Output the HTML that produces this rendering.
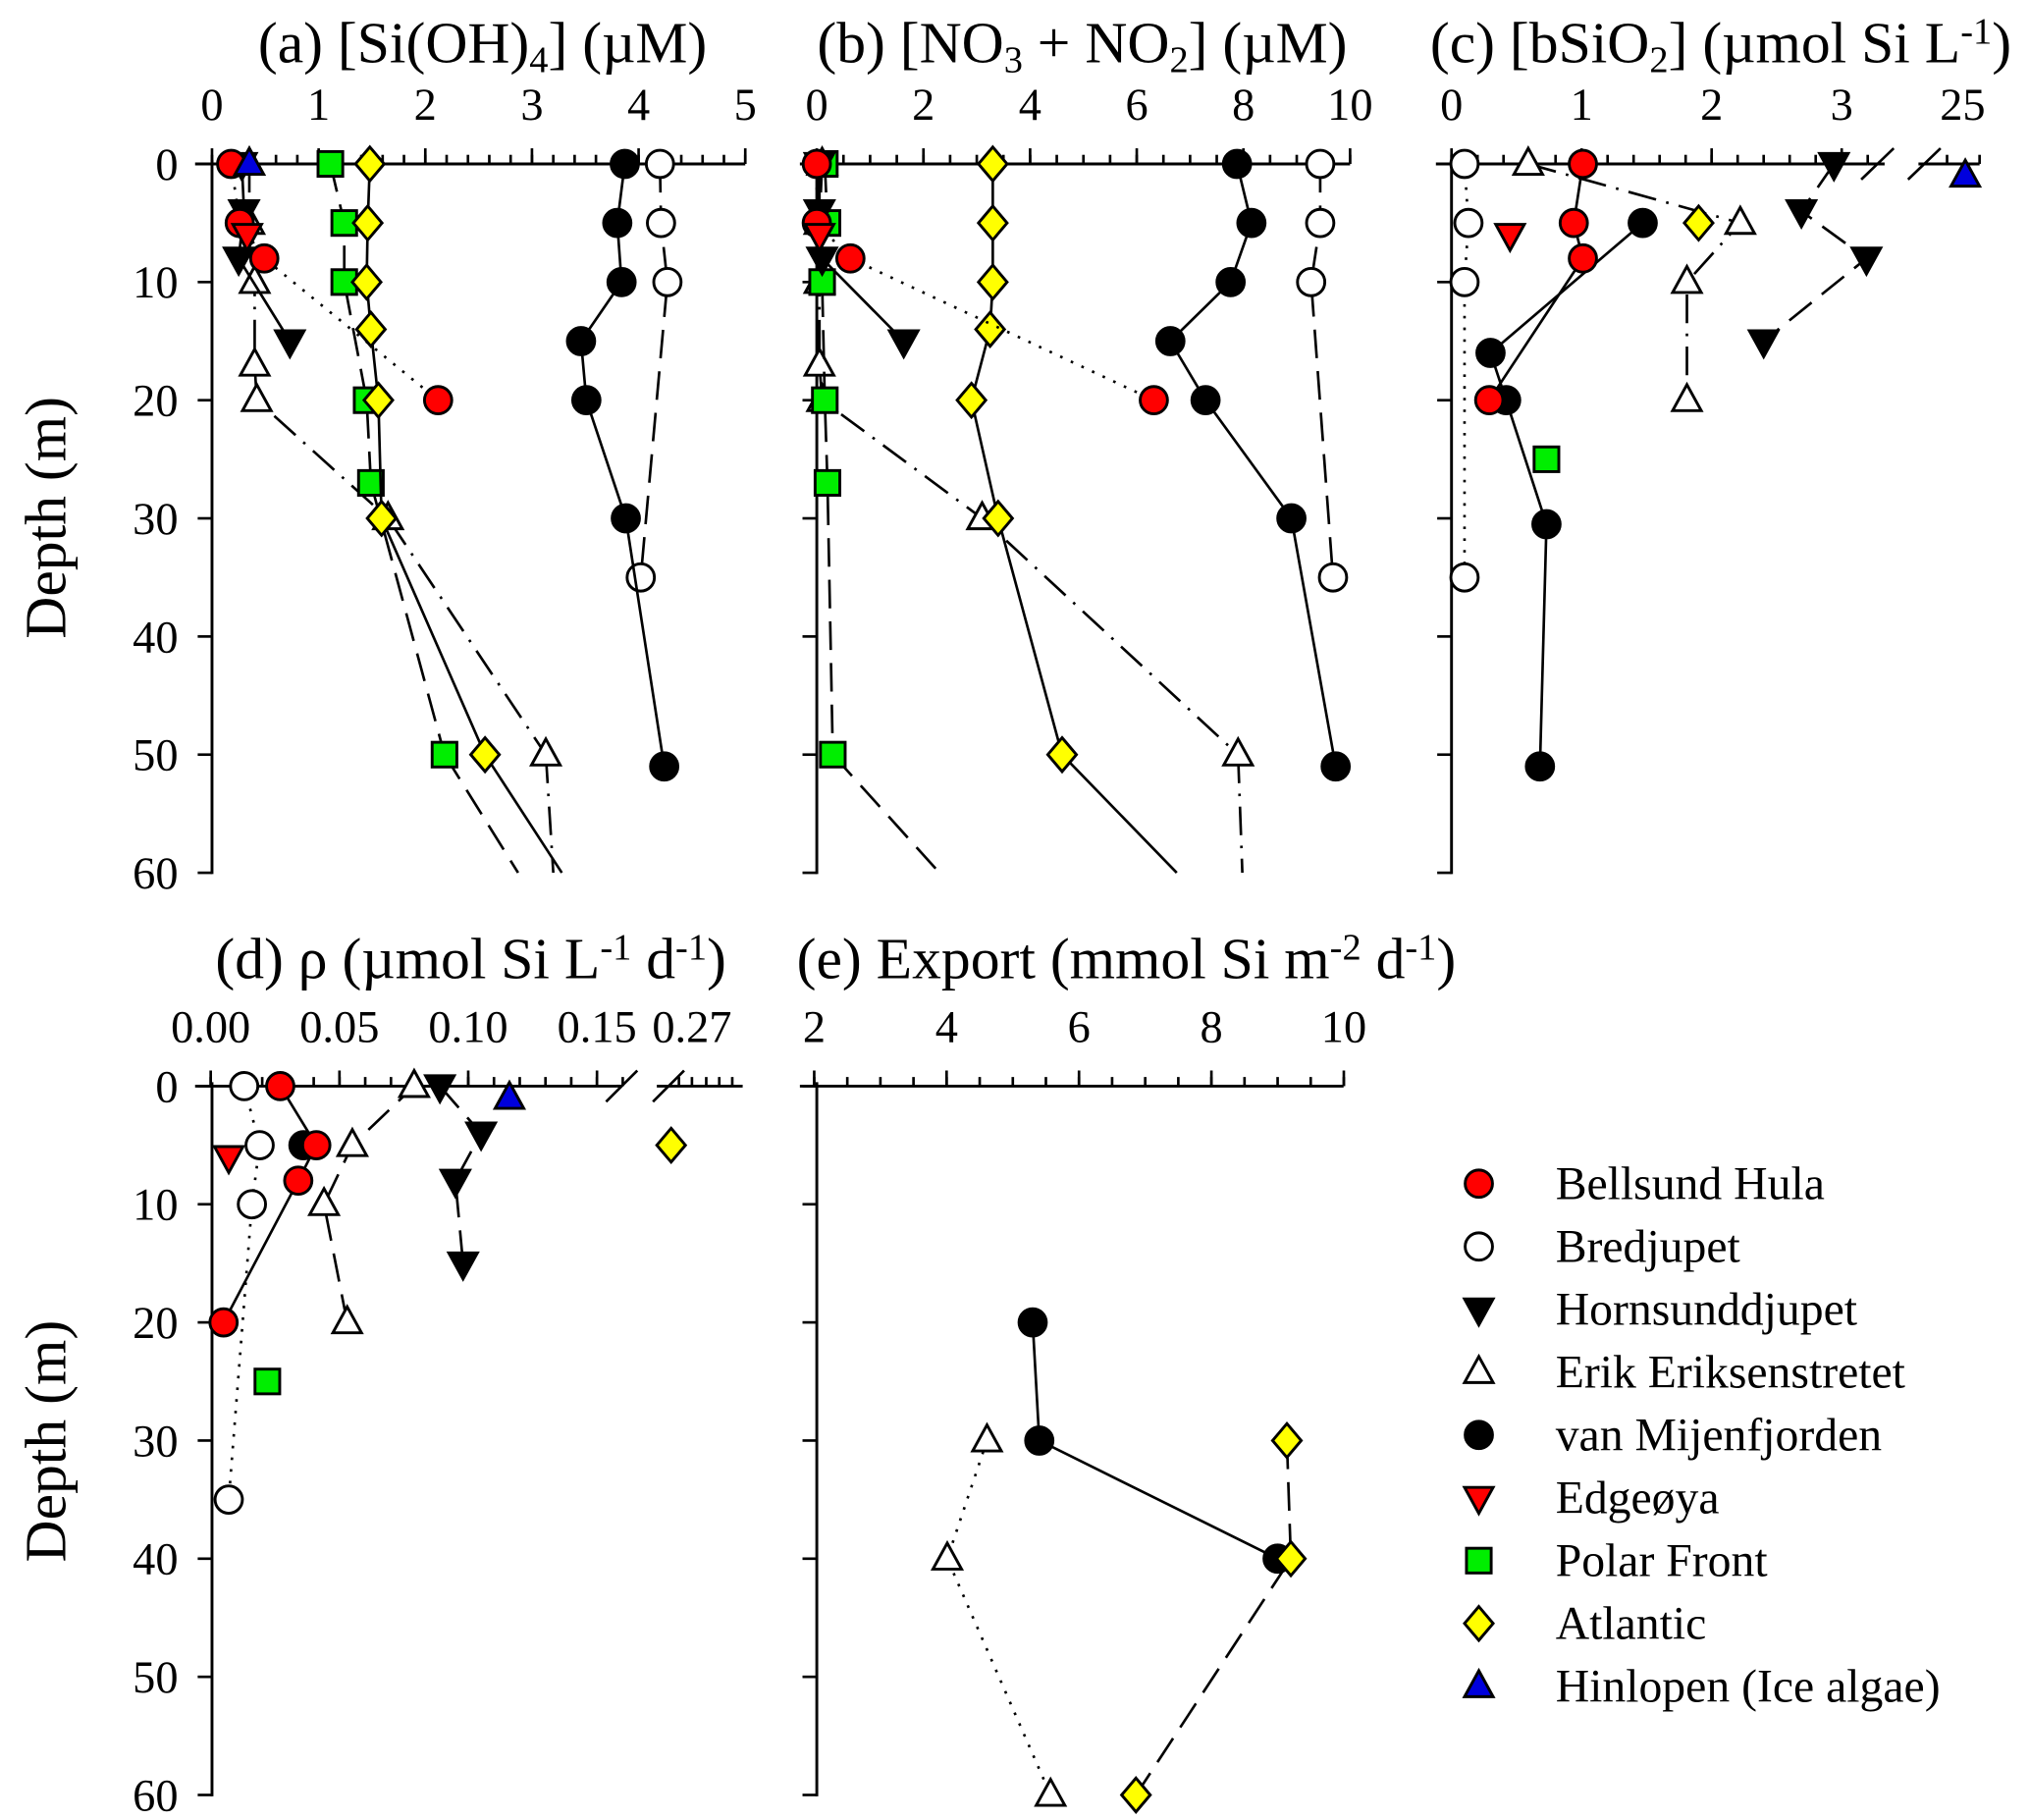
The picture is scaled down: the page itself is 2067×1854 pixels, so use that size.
<!DOCTYPE html>
<html><head><meta charset="utf-8"><style>
html,body{margin:0;padding:0;background:#fff}
svg{display:block}
text{font-family:"Liberation Serif","DejaVu Serif",serif;fill:#000}
</style></head><body>
<svg id="fig" xmlns="http://www.w3.org/2000/svg" width="2067" height="1854" viewBox="0 0 1560 1399.2"></svg>
<script>
// ---------- data: [depth, value] ----------
// Panel a: Si(OH)4
const aBellsund=[[0,0.18],[5,0.26],[8,0.49],[20,2.12]];
const aBredjupet=[[0,4.2],[5,4.21],[10,4.27],[35,4.02]];
const aHornsund=[[0,0.28],[4,0.3],[8,0.25],[15,0.73]];
const aErik=[[0,0.35],[5,0.35],[10,0.4],[17,0.4],[20,0.42],[30,1.65],[50,3.13]];
const aErikExt=[[50,3.13],[60,3.2]];
const aMijen=[[0,3.87],[5,3.8],[10,3.84],[15,3.46],[20,3.51],[30,3.88],[51,4.24]];
const aEdge=[[6,0.33]];
const aPolar=[[0,1.11],[5,1.24],[10,1.24],[20,1.45],[27,1.49],[50,2.18]];
const aPolarExt=[[50,2.18],[60,2.87]];
const aAtlantic=[[0,1.48],[5,1.46],[10,1.45],[14,1.49],[20,1.56],[30,1.59],[50,2.56]];
const aAtlanticExt=[[50,2.56],[60,3.28]];
const aHinlopen=[[0,0.35]];
// Panel b: NO3+NO2
const bBellsund=[[0,0.0],[5,0.0],[8,0.63],[20,6.32]];
const bBredjupet=[[0,9.44],[5,9.44],[10,9.27],[35,9.68]];
const bHornsund=[[0,0.05],[4,0.05],[8,0.1],[15,1.63]];
const bErik=[[0,0.1],[5,0.05],[10,0.05],[17,0.05],[20,0.1],[30,3.1],[50,7.9]];
const bErikExt=[[50,7.9],[60,7.98]];
const bMijen=[[0,7.88],[5,8.15],[10,7.76],[15,6.63],[20,7.29],[30,8.9],[51,9.73]];
const bEdge=[[6,0.05]];
const bPolar=[[0,0.15],[5,0.2],[10,0.1],[20,0.15],[27,0.2],[50,0.3]];
const bPolarExt=[[50,0.3],[60,2.3]];
const bAtlantic=[[0,3.3],[5,3.3],[10,3.3],[14,3.25],[20,2.9],[30,3.4],[50,4.6]];
const bAtlanticExt=[[50,4.6],[60,6.75]];
// Panel c: bSiO2
const cBellsund=[[0,1.01],[5,0.94],[8,1.01],[20,0.29]];
const cBredjupet=[[0,0.1],[5,0.13],[10,0.1],[35,0.1]];
const cHornsund=[[0,2.94],[4,2.69],[8,3.19],[15,2.4]];
const cErik=[[0,0.59],[5,2.22],[10,1.81],[20,1.81]];
const cMijen=[[5,1.47],[16,0.3],[20,0.42],[30.5,0.73],[51,0.68]];
const cEdge=[[6,0.45]];
const cPolar=[[25,0.73]];
const cAtlantic=[[5,1.9]];
const cHinlopen=[[1,25]];
// Panel d: rho
const dBellsund=[[0,0.027],[5,0.041],[8,0.034],[20,0.005]];
const dBredjupet=[[0,0.013],[5,0.019],[10,0.016],[35,0.007]];
const dHornsund=[[0,0.089],[4,0.105],[8,0.095],[15,0.098]];
const dErik=[[20,0.053],[10,0.044],[5,0.055],[0,0.079]];
const dErikLink=[[0,0.079],[0,0.089]];
const dMijen=[[5,0.036]];
const dEdge=[[6,0.007]];
const dPolar=[[25,0.022]];
const dAtlantic=[[5,0.26]];
const dHinlopen=[[1,0.116]];
// Panel e: export
const eMijen=[[20,5.3],[30,5.4],[40,9.0]];
const eErik=[[30,4.61],[40,4.01],[60,5.57]];
const eAtlantic=[[30,9.14],[40,9.2],[60,6.86]];

// tick labels
const aTicks=[0,1,2,3,4,5];
const bTicks=[0,2,4,6,8,10];
const cTicks=[0,1,2,3];
const dTicks=[0,0.05,0.10,0.15];
const eTicks=[2,4,6,8,10];
const depthTicks=[0,10,20,30,40,50,60];

// ---------- helpers ----------
const NS="http://www.w3.org/2000/svg";
const svg=document.getElementById('fig');
function el(tag,attrs,parent){const e=document.createElementNS(NS,tag);for(const k in attrs)e.setAttribute(k,attrs[k]);(parent||svg).appendChild(e);return e;}
const yTop1=126, yTop2=835, ppm=9.083;
const TICK=35;
const styles={solid:'',dashed:'22 10',dotted:'2 7',dashdot:'22 8 2 8'};
const kinds={
 bellsund:{shape:'circle',fill:'#ff0000'},
 bredjupet:{shape:'circle',fill:'#ffffff'},
 hornsund:{shape:'tdown',fill:'#000000'},
 erik:{shape:'tup',fill:'#ffffff'},
 mijen:{shape:'circle',fill:'#000000'},
 edge:{shape:'tdown',fill:'#ff0000'},
 polar:{shape:'square',fill:'#00ee00'},
 atlantic:{shape:'diamond',fill:'#ffff00'},
 hinlopen:{shape:'tup',fill:'#0000dd'}
};
function marker(g,kind,x,y){
 const k=kinds[kind];const a={fill:k.fill,stroke:'#000','stroke-width':2.2};let m;
 if(k.shape==='circle'){m=el('circle',Object.assign({cx:x,cy:y,r:10.5},a),g);}
 else if(k.shape==='square'){m=el('rect',Object.assign({x:x-9.5,y:y-9.5,width:19,height:19},a),g);}
 else if(k.shape==='diamond'){m=el('polygon',Object.assign({points:`${x},${y-13} ${x+11},${y} ${x},${y+13} ${x-11},${y}`},a),g);}
 else if(k.shape==='tup'){m=el('polygon',Object.assign({points:`${x},${y-12} ${x+11},${y+8} ${x-11},${y+8}`},a),g);}
 else {m=el('polygon',Object.assign({points:`${x},${y+12} ${x+11},${y-8} ${x-11},${y-8}`},a),g);}
 
 
 return m;
}
function line(g,data,sx,sy,style,name){
 if(data.length<2)return;
 const p=el('polyline',{points:data.map(d=>sx(d[1])+','+sy(d[0])).join(' '),fill:'none',stroke:'#000','stroke-width':2,'stroke-dasharray':styles[style]},g);
 
 
}
function series(g,data,sx,sy,kind,style,name){
 if(style)line(g,data,sx,sy,style,name+'-line');
 const mg=el('g',{},g);
 
 
 data.forEach(d=>marker(mg,kind,sx(d[1]),sy(d[0])));
}
function txt(g,x,y,s,size,anchor){const t=el('text',{x:x,y:y,'font-size':size,'text-anchor':anchor||'middle'},g);t.textContent=s;return t;}
function ln(g,x1,y1,x2,y2,w){return el('line',{x1,y1,x2,y2,stroke:'#000','stroke-width':w||2.2},g);}

function panel(name,axX,xStart,xEnd,yTop,minorVals,majorVals,sx,labels,labelFmt,depthLabels){
 const g=el('g',{});
 
 
 const yBot=yTop+60*ppm;
 const ax=el('g',{},g);
 
 
 ln(ax,xStart,yTop,xEnd,yTop);
 minorVals.forEach(v=>ln(ax,sx(v),yTop,sx(v),yTop-7,2));
 majorVals.forEach(v=>ln(ax,sx(v),yTop,sx(v),yTop-12,2));
 labels.forEach(v=>{txt(ax,sx(v),yTop-34,labelFmt(v),TICK);});
 const ay=el('g',{},g);
 
 
 ln(ay,axX,yTop-3,axX,yBot+1);
 depthTicks.forEach(d=>{ln(ay,axX-11,yTop+d*ppm,axX,yTop+d*ppm,2);if(depthLabels)txt(ay,axX-26,yTop+d*ppm+12,String(d),TICK,'end');});
 return g;
}
function range(a,b,s){const r=[];for(let v=a;v<=b+1e-9;v+=s)r.push(Math.round(v*1000)/1000);return r;}

// ---------- panel a ----------
const sxA=v=>163+82*v, syA=d=>yTop1+d*ppm;
const gA=panel('panel-a',163,150,573,yTop1,range(0,5,0.2),aTicks,sxA,aTicks,v=>String(v),true);
line(gA,aErikExt,sxA,syA,'dashdot','erik-extension');
line(gA,aPolarExt,sxA,syA,'dashed','polar-extension');
line(gA,aAtlanticExt,sxA,syA,'solid','atlantic-extension');
series(gA,aErik,sxA,syA,'erik','dashdot','a-erik');
series(gA,aPolar,sxA,syA,'polar','dashed','a-polar');
series(gA,aAtlantic,sxA,syA,'atlantic','solid','a-atlantic');
series(gA,aBredjupet,sxA,syA,'bredjupet','dashed','a-bredjupet');
series(gA,aMijen,sxA,syA,'mijen','solid','a-mijen');
series(gA,aHornsund,sxA,syA,'hornsund','solid','a-hornsund');
series(gA,aBellsund,sxA,syA,'bellsund','dotted','a-bellsund');
series(gA,aEdge,sxA,syA,'edge',null,'a-edge');
series(gA,aHinlopen,sxA,syA,'hinlopen',null,'a-hinlopen');

// ---------- panel b ----------
const sxB=v=>628+41*v, syB=syA;
const gB=panel('panel-b',628,615,1038,yTop1,range(0,10,0.5),bTicks,sxB,bTicks,v=>String(v),false);
line(gB,bErikExt,sxB,syB,'dashdot','erik-extension');
line(gB,bPolarExt,sxB,syB,'dashed','polar-extension');
line(gB,bAtlanticExt,sxB,syB,'solid','atlantic-extension');
series(gB,bErik,sxB,syB,'erik','dashdot','b-erik');
series(gB,bPolar,sxB,syB,'polar','dashed','b-polar');
series(gB,bAtlantic,sxB,syB,'atlantic','solid','b-atlantic');
series(gB,bBredjupet,sxB,syB,'bredjupet','dashed','b-bredjupet');
series(gB,bMijen,sxB,syB,'mijen','solid','b-mijen');
series(gB,bHornsund,sxB,syB,'hornsund','solid','b-hornsund');
series(gB,bBellsund,sxB,syB,'bellsund','dotted','b-bellsund');
series(gB,bEdge,sxB,syB,'edge',null,'b-edge');

// ---------- panel c ----------
const sxC=v=>v>10?1511+(v-25)*60:1116+100*v, syC=syA;
const gC=panel('panel-c',1116,1104,1436,yTop1,range(0,3.2,0.2),cTicks,sxC,cTicks,v=>String(v),false);
ln(gC,1436,yTop1,1449,yTop1);ln(gC,1475,yTop1,1522,yTop1);
ln(gC,1497,yTop1,1497,yTop1-7,2);ln(gC,1522,yTop1,1522,yTop1-7,2);
ln(gC,1431,yTop1+12,1456,yTop1-12,2);ln(gC,1467,yTop1+12,1492,yTop1-12,2);
txt(gC,1509,yTop1-34,'25',TICK);
series(gC,cBredjupet,sxC,syC,'bredjupet','dotted','c-bredjupet');
series(gC,cErik,sxC,syC,'erik','dashdot','c-erik');
series(gC,cHornsund,sxC,syC,'hornsund','dashed','c-hornsund');
series(gC,cMijen,sxC,syC,'mijen','solid','c-mijen');
series(gC,cBellsund,sxC,syC,'bellsund','solid','c-bellsund');
series(gC,cEdge,sxC,syC,'edge',null,'c-edge');
series(gC,cPolar,sxC,syC,'polar',null,'c-polar');
series(gC,cAtlantic,sxC,syC,'atlantic',null,'c-atlantic');
series(gC,cHinlopen,sxC,syC,'hinlopen',null,'c-hinlopen');

// ---------- panel d ----------
const sxD=v=>v>0.2?516+(v-0.26)*1000:162+1980*v, syD=d=>yTop2+d*ppm;
const gD=panel('panel-d',163,150,474,yTop2,range(0,0.16,0.01),dTicks,sxD,dTicks,v=>v.toFixed(2),true);
ln(gD,474,yTop2,478,yTop2);ln(gD,505,yTop2,571,yTop2);
[522,532,543,553,563].forEach(x=>ln(gD,x,yTop2,x,yTop2-7,2));
ln(gD,466,yTop2+12,490,yTop2-12,2);ln(gD,502,yTop2+12,526,yTop2-12,2);
txt(gD,532,yTop2-34,'0.27',TICK);
line(gD,dErikLink,sxD,syD,'solid','erik-hornsund-link');
series(gD,dBredjupet,sxD,syD,'bredjupet','dotted','d-bredjupet');
series(gD,dErik,sxD,syD,'erik','dashed','d-erik');
series(gD,dHornsund,sxD,syD,'hornsund','dashed','d-hornsund');
series(gD,dMijen,sxD,syD,'mijen',null,'d-mijen');
series(gD,dBellsund,sxD,syD,'bellsund','solid','d-bellsund');
series(gD,dEdge,sxD,syD,'edge',null,'d-edge');
series(gD,dPolar,sxD,syD,'polar',null,'d-polar');
series(gD,dAtlantic,sxD,syD,'atlantic',null,'d-atlantic');
series(gD,dHinlopen,sxD,syD,'hinlopen',null,'d-hinlopen');

// ---------- panel e ----------
const sxE=v=>626+(v-2)*50.9, syE=syD;
const gE=panel('panel-e',628,615,1033,yTop2,range(2,10,0.5),eTicks,sxE,eTicks,v=>String(v),false);
series(gE,eErik,sxE,syE,'erik','dotted','e-erik');
series(gE,eMijen,sxE,syE,'mijen','solid','e-mijen');
series(gE,eAtlantic,sxE,syE,'atlantic','dashed','e-atlantic');

// ---------- titles ----------
const tg=el('g',{});


function rich(x,y,parts,name){
 const t=el('text',{x:x,y:y,'font-size':45,'text-anchor':'middle'},tg);
 
 
 parts.forEach(p=>{const s=el('tspan',{},t);if(p[1]==='sub'){s.setAttribute('baseline-shift','-25%');s.setAttribute('font-size',29);}else if(p[1]==='sup'){s.setAttribute('baseline-shift','50%');s.setAttribute('font-size',29);}s.textContent=p[0];});
}
rich(371,48,[['(a) [Si(OH)'],['4','sub'],['] (µM)']],'title-a');
rich(832,48,[['(b) [NO'],['3','sub'],[' + NO'],['2','sub'],['] (µM)']],'title-b');
rich(1323,48,[['(c) [bSiO'],['2','sub'],['] (µmol Si L'],['-1','sup'],[')']],'title-c');
rich(362,752,[['(d) ρ (µmol Si L'],['-1','sup'],[' d'],['-1','sup'],[')']],'title-d');
rich(866,752,[['(e) Export (mmol Si m'],['-2','sup'],[' d'],['-1','sup'],[')']],'title-e');
[[398,'depth-title-top'],[1108,'depth-title-bottom']].forEach(a=>{
 const t=el('text',{x:0,y:0,'font-size':45,'text-anchor':'middle',transform:`translate(50,${a[0]}) rotate(-90)`},tg);
 
 
 t.textContent='Depth (m)';
});

// ---------- legend ----------
const legendNames=['Bellsund Hula','Bredjupet','Hornsunddjupet','Erik Eriksenstretet','van Mijenfjorden','Edgeøya','Polar Front','Atlantic','Hinlopen (Ice algae)'];
const legendKinds=['bellsund','bredjupet','hornsund','erik','mijen','edge','polar','atlantic','hinlopen'];
const lg=el('g',{});


legendNames.forEach((n,i)=>{
 const y=910+i*48.3;
 const eg=el('g',{},lg);
 
 
 marker(eg,legendKinds[i],1137,y);
 txt(eg,1196,y+12,n,36,'start');
});
</script>
</body></html>
